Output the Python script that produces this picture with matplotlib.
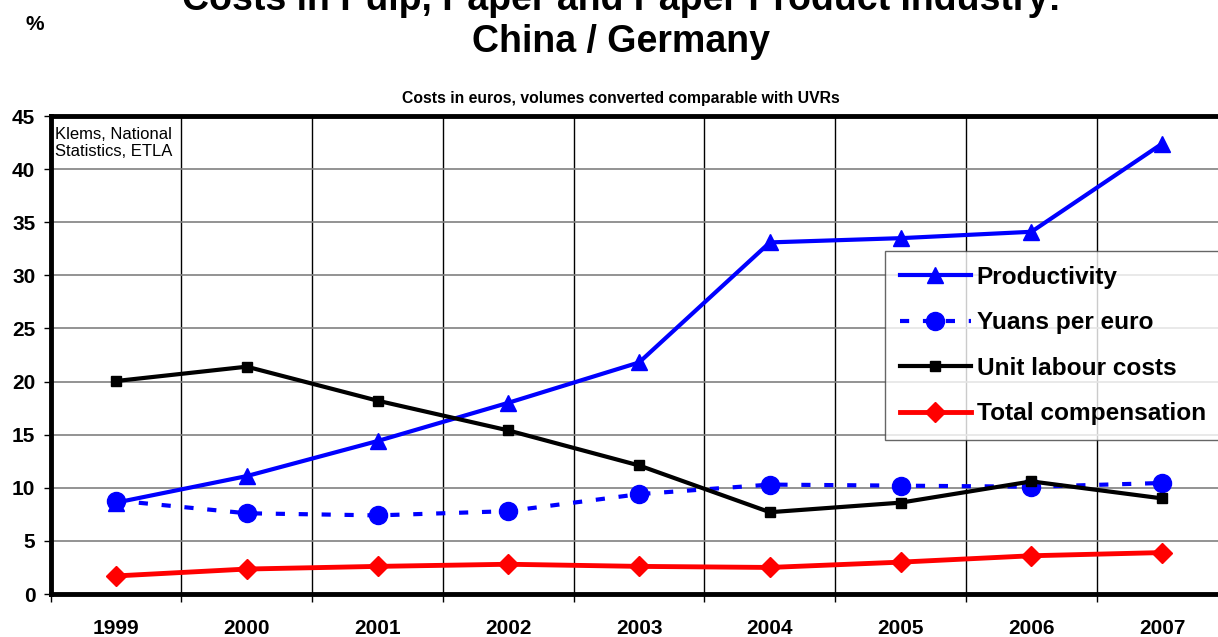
import numpy as np
import matplotlib
matplotlib.use("Agg")
import matplotlib.pyplot as plt
from matplotlib.ticker import FixedLocator

plt.rcParams['font.family'] = ['Liberation Sans', 'DejaVu Sans']

# data
years = ["1999", "2000", "2001", "2002", "2003", "2004", "2005", "2006", "2007"]
productivity = [8.6, 11.1, 14.4, 18.0, 21.8, 33.1, 33.5, 34.1, 42.4]
yuans_per_euro = [8.8, 7.6, 7.4, 7.8, 9.4, 10.3, 10.2, 10.1, 10.45]
unit_labour = [20.05, 21.4, 18.2, 15.4, 12.1, 7.7, 8.6, 10.6, 9.0]
total_comp = [1.7, 2.35, 2.6, 2.8, 2.6, 2.5, 3.0, 3.6, 3.9]

fig = plt.figure(figsize=(12.18, 6.37), dpi=100)
ax = fig.add_axes([50.6 / 1218, 43 / 637, 1177 / 1218, 478 / 637])

x = np.arange(len(years))
ax.plot(x, productivity, color="blue", lw=3, marker="^", ms=12, label="Productivity")
ax.plot(x, yuans_per_euro, color="blue", lw=3, ls=(0, (2.2, 3.3)), marker="o", ms=13,
        label="Yuans per euro")
ax.plot(x, unit_labour, color="black", lw=3, marker="s", ms=7, label="Unit labour costs")
ax.plot(x, total_comp, color="red", lw=3.5, marker="D", ms=10, label="Total compensation")

ax.set_xlim(-0.5, len(years) - 0.5)
ax.set_ylim(0, 45)
ax.set_yticks(np.arange(0, 46, 5))
ax.set_yticklabels([str(v) for v in range(0, 46, 5)], fontsize=15, fontweight="bold")
ax.set_xticks(x)
ax.set_xticklabels(years, fontsize=15, fontweight="bold")
ax.tick_params(axis="x", which="major", length=0, pad=18)
ax.xaxis.set_minor_locator(FixedLocator(np.arange(-0.5, len(years), 1.0)))
ax.tick_params(axis="x", which="minor", length=6, width=1)
ax.tick_params(axis="y", length=5, width=1, pad=6)

ax.grid(axis="y", color="#808080", lw=1.2)
ax.grid(axis="x", which="minor", color="black", lw=1)
ax.set_axisbelow(True)
for s in ["left", "bottom", "top"]:
    ax.spines[s].set_linewidth(3.5)
ax.spines["right"].set_visible(False)

ax.text(0.004, 0.978, "Klems, National\nStatistics, ETLA", transform=ax.transAxes,
        fontsize=12, va="top", ha="left", linespacing=1.2)

leg = ax.legend(loc="upper left", bbox_to_anchor=((885 - 50.6) / 1177, 1 - (251 - 116) / 478),
                prop={"size": 17.6, "weight": "bold"}, frameon=True, fancybox=False,
                edgecolor="#404040", handlelength=2.9, labelspacing=0.92,
                borderpad=0.6, handletextpad=0.25, borderaxespad=0)
leg.get_frame().set_linewidth(1)

fig.text(0.51, 1 - 10 / 637, "Costs in Pulp, Paper and Paper Product Industry:", ha="center",
         va="baseline", fontsize=27, fontweight="bold")
fig.text(0.51, 1 - 52 / 637, "China / Germany", ha="center", va="baseline",
         fontsize=27, fontweight="bold")
fig.text(35 / 1218, 1 - 25 / 637, "%", ha="center", va="center", fontsize=15, fontweight="bold")
fig.text(0.51, 1 - 98 / 637, "Costs in euros, volumes converted comparable with UVRs",
         ha="center", va="center", fontsize=11.3, fontweight="bold")

fig.savefig("out.png", dpi=100)
